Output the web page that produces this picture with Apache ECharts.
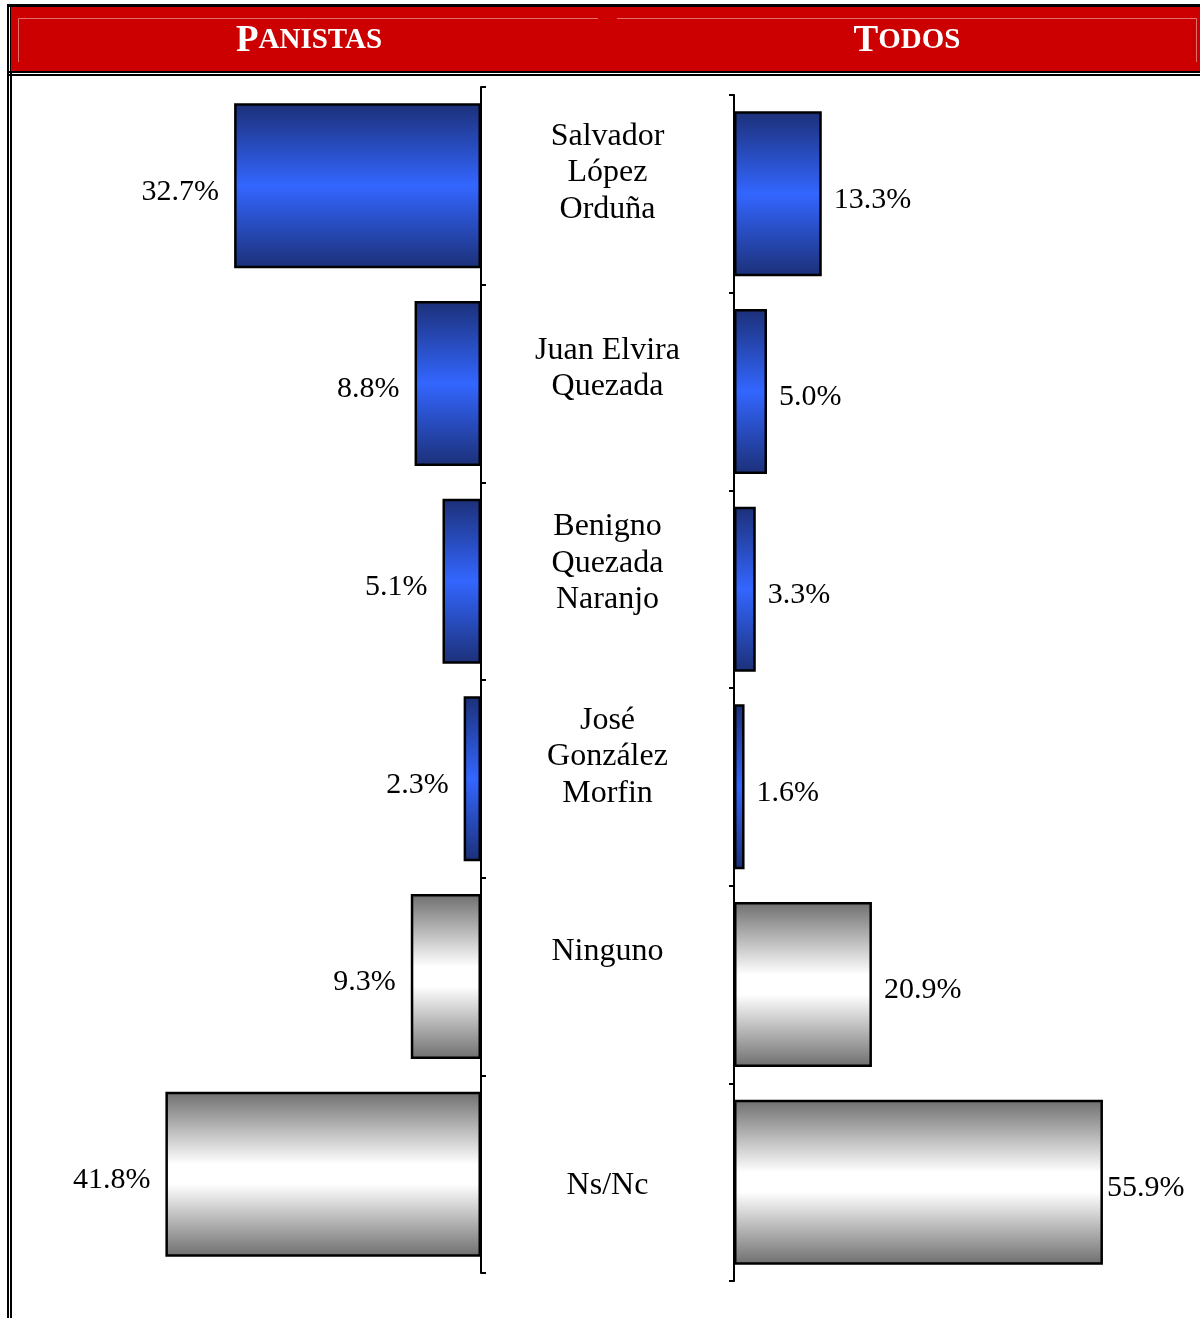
<!DOCTYPE html>
<html>
<head>
<meta charset="utf-8">
<script src="https://cdn.jsdelivr.net/npm/echarts@6/dist/echarts.min.js"></script>
<style>
html,body{margin:0;padding:0;background:#fff;}
#chart{width:1200px;height:1318px;}
</style>
</head>
<body>
<div id="chart"></div>
<script>
// ---- data ----
const categories = ['Salvador\nLópez\nOrduña', 'Juan Elvira\nQuezada', 'Benigno\nQuezada\nNaranjo', 'José\nGonzález\nMorfin', 'Ninguno', 'Ns/Nc'];
const panistas = [32.7, 8.8, 5.1, 2.3, 9.3, 41.8];
const todos = [13.3, 5.0, 3.3, 1.6, 20.9, 55.9];
const headers = ['Panistas', 'Todos'];
const kinds = ['blue', 'blue', 'blue', 'blue', 'grey', 'grey'];

// ---- style ----
const FONT = '"Liberation Serif", "Times New Roman", serif';
const labelShift = [13, 15, 18, 22, 25, -11]; // upward shift of category labels (px)
const blueGrad = new echarts.graphic.LinearGradient(0, 0, 0, 1, [
  {offset: 0, color: '#1c3078'},
  {offset: 0.5, color: '#3366ff'},
  {offset: 1, color: '#1c3078'}
]);
const greyGrad = new echarts.graphic.LinearGradient(0, 0, 0, 1, [
  {offset: 0, color: '#6e6e6e'},
  {offset: 0.44, color: '#ffffff'},
  {offset: 0.56, color: '#ffffff'},
  {offset: 1, color: '#6e6e6e'}
]);
function items(vals, lastDistance) {
  return vals.map((v, i) => {
    const it = {value: v, itemStyle: {color: kinds[i] === 'blue' ? blueGrad : greyGrad}};
    if (lastDistance != null && i === vals.length - 1) it.label = {distance: lastDistance};
    return it;
  });
}
function smallCaps(word) {
  return '{a|' + word[0].toUpperCase() + '}{b|' + word.slice(1).toUpperCase() + '}';
}
const capRich = {
  a: {fontFamily: FONT, fontWeight: 'bold', fontSize: 37, fill: '#fff', color: '#fff'},
  b: {fontFamily: FONT, fontWeight: 'bold', fontSize: 29, fill: '#fff', color: '#fff'}
};

const chart = echarts.init(document.getElementById('chart'), null, {renderer: 'canvas'});
const axisCommon = {
  type: 'category',
  inverse: true,
  data: categories,
  axisLabel: {show: false},
  axisLine: {show: true, lineStyle: {color: '#000', width: 2}},
  axisTick: {show: true, inside: false, length: 5, lineStyle: {color: '#000', width: 2}},
  splitLine: {show: false}
};
const valueLabel = {show: true, fontFamily: FONT, fontSize: 30, color: '#000', offset: [0, 6],
  formatter: p => p.value.toFixed(1) + '%'};
const option = {
  animation: false,
  backgroundColor: '#fff',
  grid: [
    {left: 103.5, width: 377.5, top: 87, height: 1186, containLabel: false},
    {left: 734, width: 396, top: 95, height: 1186, containLabel: false}
  ],
  xAxis: [
    {gridIndex: 0, type: 'value', min: 0, max: 50, inverse: true, show: false},
    {gridIndex: 1, type: 'value', min: 0, max: 60, show: false}
  ],
  yAxis: [
    Object.assign({}, axisCommon, {gridIndex: 0, position: 'right'}),
    Object.assign({}, axisCommon, {gridIndex: 1, position: 'left'})
  ],
  series: [
    {
      type: 'bar', xAxisIndex: 0, yAxisIndex: 0, data: items(panistas),
      barCategoryGap: '16.5%',
      itemStyle: {borderColor: '#000', borderWidth: 2.5},
      label: Object.assign({}, valueLabel, {position: 'left', distance: 15})
    },
    {
      type: 'bar', xAxisIndex: 1, yAxisIndex: 1, data: items(todos, 4),
      barCategoryGap: '16.5%',
      itemStyle: {borderColor: '#000', borderWidth: 2.5},
      label: Object.assign({}, valueLabel, {position: 'right', distance: 12})
    }
  ],
  graphic: [
    // frame lines
    {type: 'rect', shape: {x: 7, y: 4, width: 2, height: 1314}, style: {fill: '#000'}, silent: true},
    {type: 'rect', shape: {x: 10, y: 4, width: 2, height: 1314}, style: {fill: '#000'}, silent: true},
    {type: 'rect', shape: {x: 7, y: 4, width: 1193, height: 3}, style: {fill: '#000'}, silent: true},
    {type: 'rect', shape: {x: 11, y: 7, width: 1189, height: 64}, style: {fill: '#cc0000'}, silent: true},
    {type: 'rect', shape: {x: 7, y: 71, width: 1193, height: 2}, style: {fill: '#000'}, silent: true},
    {type: 'rect', shape: {x: 7, y: 74, width: 1193, height: 2}, style: {fill: '#000'}, silent: true},
    // header inner highlights
    {type: 'polyline', shape: {points: [[18.5, 62], [18.5, 18.5], [598, 18.5]]}, style: {stroke: '#e07070', lineWidth: 1, fill: null}, silent: true},
    {type: 'polyline', shape: {points: [[617, 18.5], [1196.5, 18.5], [1196.5, 62]]}, style: {stroke: '#e07070', lineWidth: 1, fill: null}, silent: true},
    // header titles
    {type: 'text', x: 309, y: 41, style: {text: smallCaps(headers[0]), rich: capRich, align: 'center', verticalAlign: 'middle', fill: '#fff'}, silent: true},
    {type: 'text', x: 907, y: 41, style: {text: smallCaps(headers[1]), rich: capRich, align: 'center', verticalAlign: 'middle', fill: '#fff'}, silent: true}
  ]
};
chart.setOption(option);

// category labels centred between the two axes, placed through the category scale
const leftX = chart.convertToPixel({xAxisIndex: 0}, 0);
const rightX = chart.convertToPixel({xAxisIndex: 1}, 0);
const midX = (leftX + rightX) / 2;
const catTexts = categories.map((c, i) => {
  const y = chart.convertToPixel({yAxisIndex: 0}, i);
  return {
    type: 'text', id: 'cat' + i, x: midX, y: y - labelShift[i], silent: true,
    style: {text: c, fontFamily: FONT, fontSize: 32, lineHeight: 36.5, fill: '#000',
      align: 'center', verticalAlign: 'middle'}
  };
});
chart.setOption({graphic: option.graphic.concat(catTexts)});
</script>
</body>
</html>
